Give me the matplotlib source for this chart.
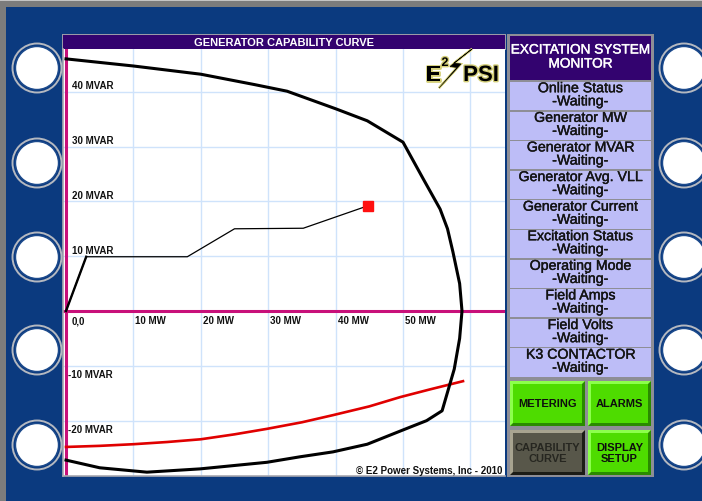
"""Generator capability curve screen"""

import matplotlib
matplotlib.use('Agg')
import matplotlib.pyplot as plt
from matplotlib.patches import Rectangle, Circle, Polygon
import matplotlib.patheffects as pe

plt.rcParams['font.family'] = ['Liberation Sans', 'DejaVu Sans']

# capability limit curve (MW, MVAR), traced from top left, round, to bottom left
cap_mw = [0, 10, 20, 28, 32.8, 40, 44.7, 50, 53, 55.5, 56.6, 57.4, 58.4, 58.75,
          58.4, 57.6, 55.8, 53.5, 50, 44.7, 39.6, 34.7, 29.8, 19.9, 12, 5, 0]
cap_mvar = [46.0, 44.7, 43.2, 41.3, 40.1, 36.9, 34.7, 30.8, 24.1, 18.6, 15.0, 10.8, 5.0, 0,
            -5.0, -10.6, -18.2, -20.0, -21.7, -24.3, -25.7, -26.6, -27.6, -28.8, -29.4,
            -28.6, -27.2]

# minimum excitation limit (red)
mel_mw = [0, 5, 10, 15, 20, 25, 29.8, 35, 39.6, 45, 49.6, 54, 58.9]
mel_mvar = [-24.8, -24.6, -24.3, -23.9, -23.4, -22.5, -21.5, -20.3, -19.0, -17.4, -15.7,
            -14.3, -12.8]

# operating point trail
trail_mw = [0, 3, 18, 25, 35.2, 44.8]
trail_mvar = [0, 9.9, 9.9, 15, 15.1, 19.2]

x_ticks = [10, 20, 30, 40, 50]
x_labels = ['10 MW', '20 MW', '30 MW', '40 MW', '50 MW']
y_ticks = [40, 30, 20, 10, -10, -20]
y_labels = ['40 MVAR', '30 MVAR', '20 MVAR', '10 MVAR', '-10 MVAR', '-20 MVAR']

monitor_items = ['Online Status', 'Generator MW', 'Generator MVAR', 'Generator Avg. VLL',
                 'Generator Current', 'Excitation Status', 'Operating Mode',
                 'Field Amps', 'Field Volts', 'K3 CONTACTOR']
monitor_value = '-Waiting-'

buttons = [('METERING', 'green'), ('ALARMS', 'green'),
           ('CAPABILITY\nCURVE', 'dark'), ('DISPLAY\nSETUP', 'green')]

W, H = 702, 502
BLUE = '#0b3a7f'
PURPLE = '#33036f'
MAGENTA = '#c8107a'
PX = 0.72  # points per pixel at 100 dpi

fig = plt.figure(figsize=(W / 100, H / 100), dpi=100, facecolor='#7c7c7c')

# background / screen chrome, in pixel coordinates
bg = fig.add_axes([0, 0, 1, 1], zorder=0)
bg.set_xlim(0, W)
bg.set_ylim(H, 0)
bg.axis('off')
bg.add_patch(Rectangle((0, 0), W, 2, color='#c4c4c4', lw=0))
bg.add_patch(Rectangle((6, 8), W - 6, H - 8, color=BLUE, lw=0))

# bezel buttons
for cx in (37, 684):
    for cy in (69, 164, 258, 351, 446):
        bg.add_patch(Circle((cx, cy), 24.5, fill=False, ec='#b4b8c0', lw=1.4))
        bg.add_patch(Circle((cx, cy), 21.5, fc='white', ec='#1c4a8c', lw=1.0))

# chart title bar
bg.add_patch(Rectangle((62, 35), 444, 16, color='#9a9aa8', lw=0))
bg.add_patch(Rectangle((63, 36), 442, 14, color=PURPLE, lw=0))
bg.text(284, 43.5, 'GENERATOR CAPABILITY CURVE', color='white', fontsize=8,
        fontweight='bold', ha='center', va='center')

# monitor panel
thick = [pe.withStroke(linewidth=0.3, foreground='#141414')]
bg.add_patch(Rectangle((507, 35), 147, 443, color='#8e8e96', lw=0))
bg.add_patch(Rectangle((510, 37), 141, 44, color=PURPLE, lw=0))
bg.text(580.5, 57.5, 'EXCITATION SYSTEM\nMONITOR', color='white', fontsize=9.8,
        ha='center', va='center', linespacing=1.0,
        path_effects=[pe.withStroke(linewidth=0.3, foreground='white')])
cell_h = 29.6
for i, name in enumerate(monitor_items):
    y0 = 82 + i * cell_h
    bg.add_patch(Rectangle((510, y0 + 1), 141, cell_h - 1.5, color='#bdbdf7', lw=0))
    bg.text(580.5, y0 + cell_h / 2 - 1, name + '\n' + monitor_value, color='#141414',
            fontsize=10.2, ha='center', va='center', linespacing=0.92, path_effects=thick)

btn_boxes = [(510, 382, 585, 427), (588, 382, 651, 427),
             (510, 431, 585, 476), (588, 431, 651, 476)]
for (label, kind), (x0, y0, x1, y1) in zip(buttons, btn_boxes):
    if kind == 'green':
        face, light, dark, tc = '#4edc00', '#8cff4c', '#2a8a00', '#0e0e0e'
    else:
        face, light, dark, tc = '#58574a', '#a8a490', '#1c1c16', '#262620'
    bg.add_patch(Rectangle((x0, y0), x1 - x0, y1 - y0, color=dark, lw=0))
    bg.add_patch(Polygon([(x0, y1), (x0, y0), (x1, y0), (x1 - 3, y0 + 3),
                          (x0 + 3, y0 + 3), (x0 + 3, y1 - 3)], color=light, lw=0))
    bg.add_patch(Rectangle((x0 + 3, y0 + 3), x1 - x0 - 6, y1 - y0 - 6, color=face, lw=0))
    bg.text((x0 + x1) / 2, (y0 + y1) / 2, label, color=tc, fontsize=8,
            fontweight='bold', ha='center', va='center', linespacing=1.05)

# the chart itself
ax = fig.add_axes([63 / W, (H - 477) / H, 442 / W, 427 / H], zorder=2)
ax.set_facecolor('white')
ax.set_xlim(-0.445, 65.13)
ax.set_ylim(-30.1, 47.8)
ax.set_xticks([10, 20, 30, 40, 50, 60])
ax.set_yticks([-20, -10, 10, 20, 30, 40])
ax.grid(True, color='#cfe3fb', lw=1.0, zorder=0)
ax.tick_params(length=0, labelleft=False, labelbottom=False)
for side in ('top', 'right'):
    ax.spines[side].set_visible(False)
for side in ('left', 'bottom'):
    ax.spines[side].set_color('#a8a8b0')
    ax.spines[side].set_linewidth(1.2)

ax.axhline(0, color=MAGENTA, lw=2.2, zorder=2)
ax.axvline(0, color=MAGENTA, lw=2.2, zorder=2)

ax.plot(cap_mw, cap_mvar, color='black', lw=2.2, zorder=4, solid_joinstyle='round')
ax.plot(mel_mw, mel_mvar, color='#e00000', lw=1.9, zorder=3)
ax.plot(trail_mw, trail_mvar, color='black', lw=0.9, zorder=4)
ax.plot(trail_mw[:2], trail_mvar[:2], color='black', lw=1.7, zorder=4)
ax.plot(trail_mw[-1], trail_mvar[-1], 's', color='#ff1010', markersize=6.5, zorder=5)

for v, lbl in zip(y_ticks, y_labels):
    if v > 0:
        ax.annotate(lbl, (0, v), xytext=(6 * PX, 1.5 * PX), textcoords='offset points',
                    ha='left', va='bottom', fontsize=7, fontweight='bold', color='#111111')
    else:
        ax.annotate(lbl, (0, v), xytext=(2 * PX, -3 * PX), textcoords='offset points',
                    ha='left', va='top', fontsize=7, fontweight='bold', color='#111111')
for v, lbl in zip(x_ticks, x_labels):
    ax.annotate(lbl, (v, 0), xytext=(2 * PX, -4 * PX), textcoords='offset points',
                ha='left', va='top', fontsize=7, fontweight='bold', color='#111111')
ax.annotate('0,0', (0, 0), xytext=(6 * PX, -4 * PX), textcoords='offset points',
            ha='left', va='top', fontsize=7, fontweight='bold', color='#111111')

# overlay: logo and copyright
top = fig.add_axes([0, 0, 1, 1], zorder=6)
top.set_xlim(0, W)
top.set_ylim(H, 0)
top.axis('off')
glow = [pe.withStroke(linewidth=2, foreground='#d4cf78')]
top.add_patch(Polygon([(472, 50), (450, 67.5), (457, 68.5), (439, 89), (461, 65), (454, 64)],
                      fc='black', ec='black', lw=0.4,
                      path_effects=[pe.withStroke(linewidth=1.6, foreground='#d4cf78')]))
top.text(426, 82, 'E', fontsize=16, fontweight='bold', ha='left', va='baseline',
         path_effects=glow)
top.text(441.5, 67, '2', fontsize=9, fontweight='bold', ha='left', va='baseline',
         path_effects=glow)
top.text(499, 82, 'PSI', fontsize=16, fontweight='bold', ha='right', va='baseline',
         path_effects=glow)
top.text(502, 471, '\u00a9 E2 Power Systems, Inc - 2010', fontsize=7, fontweight='bold',
         ha='right', va='center', color='#111111')

fig.savefig('out.png', dpi=100, facecolor=fig.get_facecolor())
